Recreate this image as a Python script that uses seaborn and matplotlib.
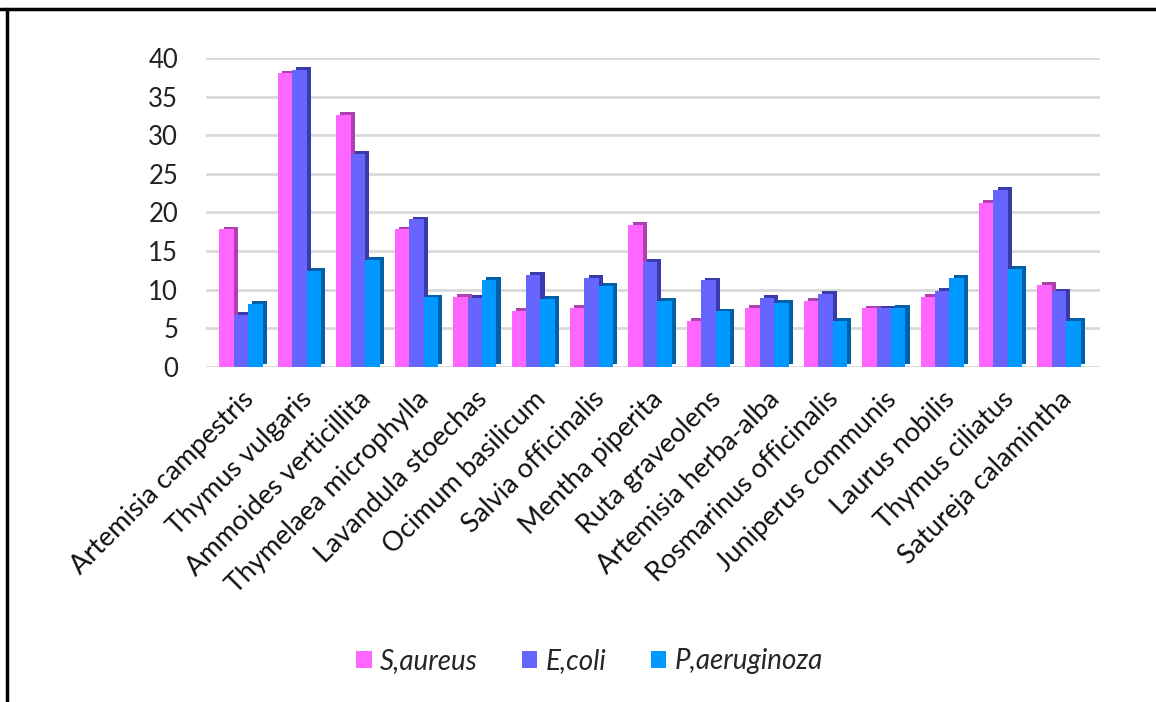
import numpy as np
import pandas as pd
import matplotlib
matplotlib.use("Agg")
import matplotlib.pyplot as plt
import matplotlib.patheffects as pe
from matplotlib.lines import Line2D
from matplotlib.patches import Patch
import seaborn as sns

plants = ["Artemisia campestris", "Thymus vulgaris", "Ammoides verticillita",
          "Thymelaea microphylla", "Lavandula stoechas", "Ocimum basilicum",
          "Salvia officinalis", "Mentha piperita", "Ruta graveolens",
          "Artemisia herba-alba", "Rosmarinus officinalis", "Juniperus communis",
          "Laurus nobilis", "Thymus ciliatus", "Satureja calamintha"]
s_aureus = [17.8, 38.0, 32.6, 17.8, 9.1, 7.3, 7.7, 18.4, 6.0, 7.7, 8.6, 7.6, 9.1, 21.2, 10.6]
e_coli = [6.7, 38.5, 27.6, 19.1, 8.9, 11.9, 11.5, 13.6, 11.2, 8.9, 9.5, 7.6, 9.9, 22.9, 9.8]
p_aeruginoza = [8.2, 12.4, 13.9, 9.0, 11.3, 8.8, 10.5, 8.6, 7.2, 8.3, 6.0, 7.7, 11.5, 12.7, 6.0]
strains = ["S,aureus", "E,coli", "P,aeruginoza"]
yticks = [0, 5, 10, 15, 20, 25, 30, 35, 40]

colors = ["#FF66FF", "#6666FF", "#0099FF"]
shades = ["#B040B0", "#3A3AA8", "#0060A8"]

df = pd.DataFrame({
    "plant": plants * 3,
    "value": s_aureus + e_coli + p_aeruginoza,
    "strain": [strains[0]] * 15 + [strains[1]] * 15 + [strains[2]] * 15,
})

sns.set_theme(style="white")
plt.rcParams["font.family"] = ["Lato", "DejaVu Sans"]

fig = plt.figure(figsize=(11.56, 7.02), dpi=100)
ax = fig.add_axes([206 / 1156, 1 - 367 / 702, (1100 - 206) / 1156, (367 - 58) / 702])

sns.barplot(data=df, x="plant", y="value", hue="strain", palette=colors,
            width=0.74, gap=0, saturation=1, ax=ax, legend=False, zorder=3)

for cont, sh in zip(ax.containers, shades):
    for bar in cont:
        bar.set_linewidth(0)
        bar.set_path_effects([pe.SimplePatchShadow(offset=(3, 2), shadow_rgbFace=sh, alpha=1.0),
                              pe.Normal()])

ax.set_ylim(0, 40)
ax.set_xlim(-0.6, 14.7)
ax.set_yticks(yticks)
ax.set_yticklabels([str(t) for t in yticks], fontsize=18.5, color="#222222")
ax.yaxis.grid(True, color="#D9D9D9", linewidth=2, zorder=0)
ax.set_axisbelow(True)
for sp in ax.spines.values():
    sp.set_visible(False)
ax.tick_params(axis="y", length=0, pad=20)
ax.tick_params(axis="x", length=0, pad=14)
ax.set_xlabel("")
ax.set_ylabel("")
ax.set_xticks(range(len(plants)))
ax.set_xticklabels(plants, rotation=45, ha="right", rotation_mode="anchor",
                   fontsize=19.5, color="#111111")

handles = [Patch(facecolor=c, edgecolor="none") for c in colors]
fig.legend(handles, strains, loc="center", bbox_to_anchor=(0.51, 0.058), ncol=3,
           frameon=False, prop={"style": "italic", "size": 20}, handlelength=0.55,
           handleheight=0.55, handletextpad=0.3, columnspacing=1.6)

fig.add_artist(Line2D([0, 1], [1 - 9 / 702, 1 - 9 / 702], transform=fig.transFigure,
                      color="black", linewidth=2.5))
fig.add_artist(Line2D([7 / 1156, 7 / 1156], [0, 1 - 9 / 702], transform=fig.transFigure,
                      color="black", linewidth=2.5))

fig.savefig("out.png", dpi=100, facecolor="white")
